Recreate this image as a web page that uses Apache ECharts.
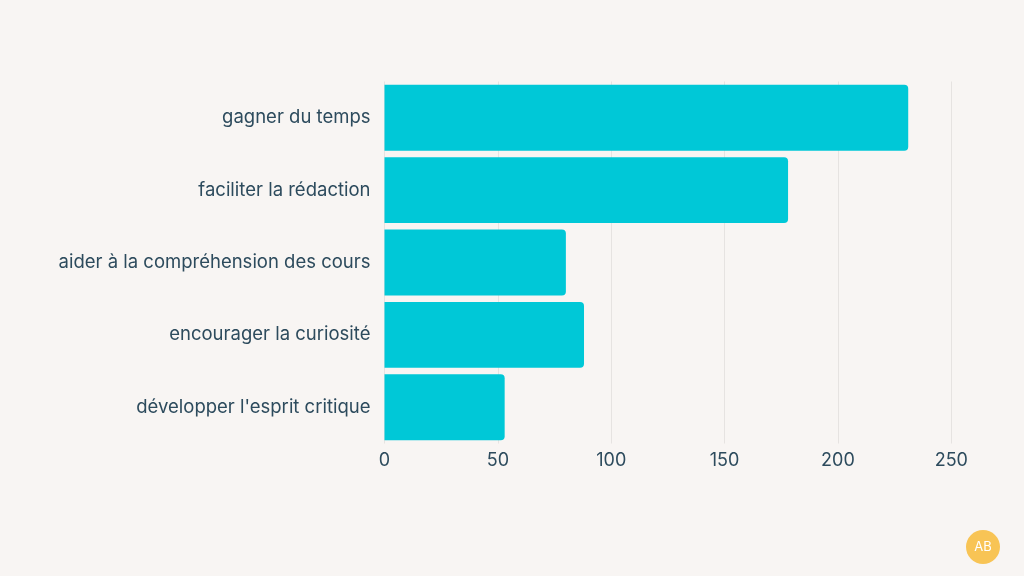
<!DOCTYPE html>
<html><head><meta charset="utf-8">
<script src="https://cdn.jsdelivr.net/npm/echarts@6/dist/echarts.min.js"></script>
<style>html,body{margin:0;padding:0;background:#f8f5f3;}#c{width:1024px;height:576px;}</style>
</head><body><div id="c"></div>
<script>
const categories = ["gagner du temps","faciliter la rédaction","aider à la compréhension des cours","encourager la curiosité","développer l'esprit critique"];
const values = [231, 178, 80, 88, 53];
const xTicks = [0, 50, 100, 150, 200, 250];

const chart = echarts.init(document.getElementById('c'));
const txt = '#2d4b5d';
const font = 'Inter, "Noto Sans", sans-serif';
chart.setOption({
  backgroundColor: '#f8f5f3',
  animation: false,
  grid: {left: 384.5, right: 72.7, top: 81.5, bottom: 132.5, containLabel: false},
  xAxis: {
    type: 'value', min: xTicks[0], max: xTicks[xTicks.length-1], interval: 50,
    axisLine: {show: false}, axisTick: {show: false},
    splitLine: {lineStyle: {color: '#e6e3e1', width: 1}},
    axisLabel: {color: txt, fontSize: 18, fontFamily: font, margin: 8}
  },
  yAxis: {
    type: 'category', data: categories, inverse: true,
    axisLine: {show: false}, axisTick: {show: false},
    axisLabel: {color: txt, fontSize: 18.5, fontFamily: font, margin: 14}
  },
  series: [{
    type: 'bar', data: values, barCategoryGap: '9%',
    itemStyle: {color: '#00c8d7', borderRadius: [0, 4, 4, 0]}
  }],
  graphic: [
    {type: 'circle', shape: {cx: 983, cy: 547, r: 17}, style: {fill: '#f8c455'}},
    {type: 'text', x: 983, y: 547, style: {text: 'AB', fill: '#fff', fontSize: 13, fontFamily: font, align: 'center', verticalAlign: 'middle'}}
  ]
});
</script></body></html>
